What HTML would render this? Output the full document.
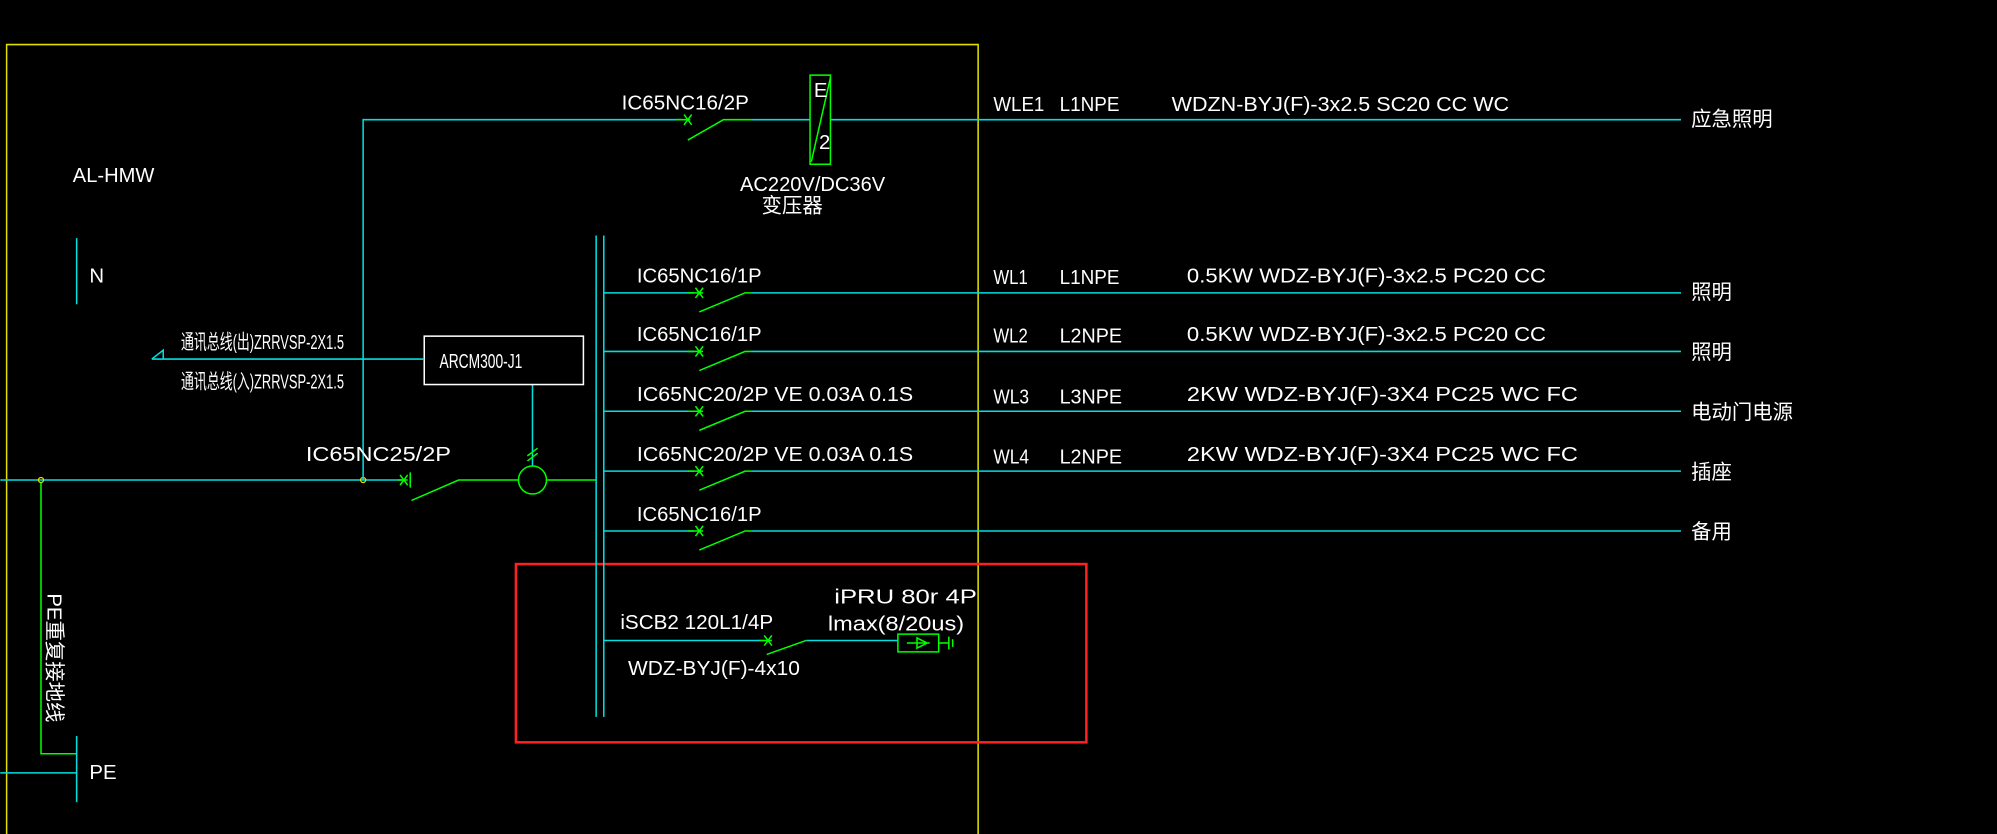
<!DOCTYPE html>
<html><head><meta charset="utf-8"><style>
html,body{margin:0;padding:0;background:#000;width:1997px;height:834px;overflow:hidden}
svg{display:block}
text{fill:#fff;font-family:"Liberation Sans","Noto Sans CJK SC",sans-serif;font-size:16px}
.c{stroke:#00e0e0;stroke-width:1.2;fill:none}
.g{stroke:#00ff00;stroke-width:1.2;fill:none}
</style></head><body>
<svg width="1997" height="834" viewBox="0 0 1568 655" xmlns="http://www.w3.org/2000/svg">
<rect width="1568" height="655" fill="#000"/>
<path d="M5 655 V35 H768 V655" stroke="#e0e000" stroke-width="1.2" fill="none"/>
<rect x="405" y="443" width="448" height="140" stroke="#ff2020" stroke-width="2" fill="none"/>
<path class="c" d="M0 377 H318"/>
<path class="g" d="M312 377 H320 M314 373 l6 8 M320 373 l-6 8 M322 371 V383 M323 393 L360 377 H407 M429 377 H468"/>
<circle cx="418" cy="377" r="11" class="g"/>
<path class="c" d="M418 302 V366"/>
<path class="g" d="M414 362 l8 -6 M414 358 l8 -6"/>
<circle cx="32" cy="377" r="2" stroke="#e0e000" fill="none"/>
<circle cx="285" cy="377" r="2" stroke="#e0e000" fill="none"/>
<path class="c" d="M468 185 V563 M474 185 V563"/>
<path class="c" d="M285 377 V94 H535 M590 94 H636 M652 94 H1320"/>
<path class="g" d="M530 94 H542 M537 90 l6 8 M543 90 l-6 8 M540 110 L568 94 H590"/>
<rect x="636" y="59" width="16" height="70" class="g"/>
<path class="g" d="M652 61 L637 127"/>
<text x="639" y="76" font-size="10">E</text>
<text x="643" y="117" font-size="10">2</text>
<text x="488" y="86" textLength="100" lengthAdjust="spacingAndGlyphs">IC65NC16/2P</text>
<text x="581" y="150" textLength="114" lengthAdjust="spacingAndGlyphs">AC220V/DC36V</text>
<text x="598" y="167" font-size="14">变压器</text>
<text x="780" y="87" textLength="40" lengthAdjust="spacingAndGlyphs">WLE1</text>
<text x="832" y="87" textLength="47" lengthAdjust="spacingAndGlyphs">L1NPE</text>
<text x="920" y="87" textLength="265" lengthAdjust="spacingAndGlyphs">WDZN-BYJ(F)-3x2.5 SC20 CC WC</text>
<text x="1328" y="99" font-size="14">应急照明</text>
<g>
<path class="c" d="M474 230 H545 M590 230 H1320 M474 276 H545 M590 276 H1320 M474 323 H545 M590 323 H1320 M474 370 H545 M590 370 H1320 M474 417 H545 M590 417 H1320"/>
<path class="g" d="M540 230 H552 M546 226 l6 8 M552 226 l-6 8 M549 245 L585 230 H590"/>
<path class="g" d="M540 276 H552 M546 272 l6 8 M552 272 l-6 8 M549 291 L585 276 H590"/>
<path class="g" d="M540 323 H552 M546 319 l6 8 M552 319 l-6 8 M549 338 L585 323 H590"/>
<path class="g" d="M540 370 H552 M546 366 l6 8 M552 366 l-6 8 M549 385 L585 370 H590"/>
<path class="g" d="M540 417 H552 M546 413 l6 8 M552 413 l-6 8 M549 432 L585 417 H590"/>
</g>
<text x="500" y="222" textLength="98" lengthAdjust="spacingAndGlyphs">IC65NC16/1P</text>
<text x="500" y="268" textLength="98" lengthAdjust="spacingAndGlyphs">IC65NC16/1P</text>
<text x="500" y="315" textLength="217" lengthAdjust="spacingAndGlyphs">IC65NC20/2P VE 0.03A 0.1S</text>
<text x="500" y="362" textLength="217" lengthAdjust="spacingAndGlyphs">IC65NC20/2P VE 0.03A 0.1S</text>
<text x="500" y="409" textLength="98" lengthAdjust="spacingAndGlyphs">IC65NC16/1P</text>
<text x="780" y="223" textLength="27" lengthAdjust="spacingAndGlyphs">WL1</text>
<text x="832" y="223" textLength="47" lengthAdjust="spacingAndGlyphs">L1NPE</text>
<text x="932" y="222" textLength="282" lengthAdjust="spacingAndGlyphs">0.5KW WDZ-BYJ(F)-3x2.5 PC20 CC</text>
<text x="780" y="269" textLength="27" lengthAdjust="spacingAndGlyphs">WL2</text>
<text x="832" y="269" textLength="49" lengthAdjust="spacingAndGlyphs">L2NPE</text>
<text x="932" y="268" textLength="282" lengthAdjust="spacingAndGlyphs">0.5KW WDZ-BYJ(F)-3x2.5 PC20 CC</text>
<text x="780" y="317" textLength="28" lengthAdjust="spacingAndGlyphs">WL3</text>
<text x="832" y="317" textLength="49" lengthAdjust="spacingAndGlyphs">L3NPE</text>
<text x="932" y="315" textLength="307" lengthAdjust="spacingAndGlyphs">2KW    WDZ-BYJ(F)-3X4   PC25 WC FC</text>
<text x="780" y="364" textLength="28" lengthAdjust="spacingAndGlyphs">WL4</text>
<text x="832" y="364" textLength="49" lengthAdjust="spacingAndGlyphs">L2NPE</text>
<text x="932" y="362" textLength="307" lengthAdjust="spacingAndGlyphs">2KW    WDZ-BYJ(F)-3X4   PC25 WC FC</text>
<text x="1328" y="235" font-size="14">照明</text>
<text x="1328" y="282" font-size="14">照明</text>
<text x="1328" y="329" font-size="14">电动门电源</text>
<text x="1328" y="376" font-size="14">插座</text>
<text x="1328" y="423" font-size="14">备用</text>
<text x="57" y="143" textLength="64" lengthAdjust="spacingAndGlyphs">AL-HMW</text>
<path class="c" d="M60 187 V239"/>
<text x="70" y="222">N</text>
<rect x="333" y="264" width="125" height="38" stroke="#fff" stroke-width="1.2" fill="none"/>
<text x="345" y="289" font-size="11" textLength="65" lengthAdjust="spacingAndGlyphs">ARCM300-J1</text>
<path class="c" d="M119 282 H333 M119 282 L128 275 V282"/>
<text x="142" y="274" font-size="8" textLength="128" lengthAdjust="spacingAndGlyphs">通讯总线(出)ZRRVSP-2X1.5</text>
<text x="142" y="305" font-size="8" textLength="128" lengthAdjust="spacingAndGlyphs">通讯总线(入)ZRRVSP-2X1.5</text>
<text x="240" y="362" textLength="114" lengthAdjust="spacingAndGlyphs">IC65NC25/2P</text>
<path class="g" d="M32 379 V592 H60"/>
<path class="c" d="M0 607 H60 M60 578 V630"/>
<text x="70" y="612">PE</text>
<text x="0" y="0" font-size="13" transform="translate(37,466) rotate(90)">PE重复接地线</text>
<path class="c" d="M474 503 H600 M633 503 H705"/>
<path class="g" d="M596 503 H606 M600 499 l6 8 M606 499 l-6 8 M602 514 L633 503 M705 498 H737 V512 H705 Z M712 505 H730 M720 501 L728 505 L720 509 Z M737 505 H745 M745 500 V510 M748 502 V508"/>
<text x="487" y="494" textLength="120" lengthAdjust="spacingAndGlyphs">iSCB2 120L1/4P</text>
<text x="493" y="530" textLength="135" lengthAdjust="spacingAndGlyphs">WDZ-BYJ(F)-4x10</text>
<text x="655" y="474" textLength="112" lengthAdjust="spacingAndGlyphs">iPRU 80r 4P</text>
<text x="650" y="495" textLength="107" lengthAdjust="spacingAndGlyphs">lmax(8/20us)</text>
</svg>
</body></html>
